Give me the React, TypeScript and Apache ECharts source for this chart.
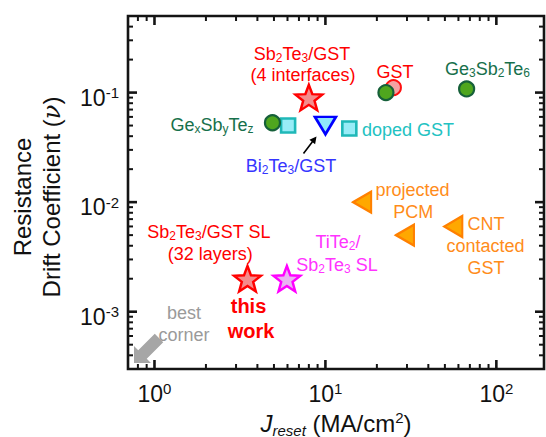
import React, { useEffect, useRef } from 'react';
import * as echarts from 'echarts';

const FONT = '"Liberation Sans", Arial, Helvetica, sans-serif';
const SERIF = '"DejaVu Serif", "Liberation Serif", serif';

// Axis ranges (log–log)
const X_MIN = 0.7;
const X_MAX = 190;
const Y_MIN = 3e-4;
const Y_MAX = 0.5;

// Tick positions
const xMajorTicks = [1, 10, 100];
const xMinorTicks = [0.8, 0.9, 2, 3, 4, 5, 6, 7, 8, 9, 20, 30, 40, 50, 60, 70, 80, 90];
const yMajorTicks = [0.001, 0.01, 0.1];
const yMinorTicks = [
  0.0004, 0.0005, 0.0006, 0.0007, 0.0008, 0.0009,
  0.002, 0.003, 0.004, 0.005, 0.006, 0.007, 0.008, 0.009,
  0.02, 0.03, 0.04, 0.05, 0.06, 0.07, 0.08, 0.09,
  0.2, 0.3, 0.4,
];

// [J_reset (MA/cm²), drift coefficient ν]
const gstPoints = [[25, 0.111]];
const gexsbytezPoints = [[22.6, 0.1], [67, 0.108], [4.9, 0.053]];
const dopedGstPoints = [[6.05, 0.05], [13.8, 0.047]];
const bi2te3Points = [[10, 0.05]];
const orangePoints = [[16.4, 0.01], [29.2, 0.005], [56, 0.006]];
const sb2te3Points = [[8, 0.09], [3.5, 0.002]];
const tite2Points = [[5.95, 0.002]];

// five-pointed star outline for the symbol
function starSymbol(inner: number): string {
  const pts: string[] = [];
  for (let i = 0; i < 10; i++) {
    const a = (-90 + i * 36) * Math.PI / 180;
    const r = i % 2 === 0 ? 50 : 50 * inner;
    pts.push(`${(r * Math.cos(a)).toFixed(2)} ${(r * Math.sin(a)).toFixed(2)}`);
  }
  return 'path://M' + pts.join(' L') + ' Z';
}
const STAR = starSymbol(0.42);

function markSeries(name: string, data: number[][], symbol: string, size: any, fill: string, stroke: string, lw: number, rotate = 0, z = 5) {
  return {
    type: 'scatter',
    name,
    data,
    symbol,
    symbolSize: size,
    symbolRotate: rotate,
    itemStyle: { color: fill, borderColor: stroke, borderWidth: lw, opacity: 1 },
    silent: true,
    z,
  };
}

function annoRich(color: string) {
  return {
    n: { fill: color, color, fontSize: 18, lineHeight: 20, fontFamily: FONT },
    s: { fill: color, color, fontSize: 12, lineHeight: 8, verticalAlign: 'bottom', fontFamily: FONT },
    b: { fill: color, color, fontSize: 20, lineHeight: 22, fontWeight: 'bold', fontFamily: FONT },
  };
}

function anno(x: number, y: number, text: string, color: string) {
  return {
    type: 'text',
    x,
    y,
    z: 50,
    silent: true,
    style: {
      text,
      rich: annoRich(color),
      fill: color,
      font: `18px ${FONT}`,
      align: 'center',
      textAlign: 'center',
      verticalAlign: 'middle',
      textVerticalAlign: 'middle',
    },
  };
}

function arrowPoints(tail: number[], tip: number[], shaftHalf: number, headLen: number, headHalf: number) {
  const dx = tip[0] - tail[0];
  const dy = tip[1] - tail[1];
  const L = Math.hypot(dx, dy);
  const ux = dx / L, uy = dy / L;
  const px = -uy, py = ux;
  const bx = tip[0] - ux * headLen, by = tip[1] - uy * headLen;
  return [
    [tail[0] + px * shaftHalf, tail[1] + py * shaftHalf],
    [bx + px * shaftHalf, by + py * shaftHalf],
    [bx + px * headHalf, by + py * headHalf],
    [tip[0], tip[1]],
    [bx - px * headHalf, by - py * headHalf],
    [bx - px * shaftHalf, by - py * shaftHalf],
    [tail[0] - px * shaftHalf, tail[1] - py * shaftHalf],
  ];
}

const tickRich = {
  b: { fontFamily: FONT, fontSize: 23, lineHeight: 22, color: '#111', verticalAlign: 'bottom' },
  s: { fontFamily: FONT, fontSize: 15, lineHeight: 33, color: '#111', verticalAlign: 'middle' },
};

function powerLabel(v: number): string {
  const e = Math.log10(v);
  const r = Math.round(e);
  if (Math.abs(e - r) > 1e-6) return '';
  return `{b|10}{s|${r}}`;
}

const tickData = [
  ...xMajorTicks.map((v) => [v, Y_MIN, 0, 1]),
  ...xMinorTicks.map((v) => [v, Y_MIN, 0, 0]),
  ...yMajorTicks.map((v) => [X_MIN, v, 1, 1]),
  ...yMinorTicks.map((v) => [X_MIN, v, 1, 0]),
];

const option: any = {
  animation: false,
  backgroundColor: '#ffffff',
  textStyle: { fontFamily: FONT },
  grid: {
    left: 128,
    right: 2,
    top: 16,
    bottom: 68,
    containLabel: false,
    outerBoundsMode: 'none',
    show: true,
    borderColor: '#141414',
    borderWidth: 2.6,
    backgroundColor: 'transparent',
  },
  xAxis: {
    type: 'log',
    logBase: 10,
    min: X_MIN,
    max: X_MAX,
    axisLine: { show: false },
    axisTick: { show: false },
    minorTick: { show: false },
    splitLine: { show: false },
    axisLabel: { formatter: powerLabel, margin: 3, rich: tickRich },
    name: '{i|J}{sub|reset}{n| (MA/cm}{sup|2}{n|)}',
    nameLocation: 'middle',
    nameGap: 39,
    nameTextStyle: {
      rich: {
        i: { fontFamily: FONT, fontSize: 24, fontStyle: 'italic', lineHeight: 28, color: '#111' },
        n: { fontFamily: FONT, fontSize: 24, lineHeight: 28, color: '#111' },
        sub: { fontFamily: FONT, fontSize: 15, fontStyle: 'italic', lineHeight: 15, verticalAlign: 'bottom', color: '#111' },
        sup: { fontFamily: FONT, fontSize: 15, lineHeight: 15, verticalAlign: 'top', color: '#111' },
      },
    },
  },
  yAxis: {
    type: 'log',
    logBase: 10,
    min: Y_MIN,
    max: Y_MAX,
    axisLine: { show: false },
    axisTick: { show: false },
    minorTick: { show: false },
    splitLine: { show: false },
    axisLabel: { formatter: powerLabel, margin: 9, rich: tickRich },
  },
  series: [
    {
      type: 'custom',
      name: 'ticks',
      silent: true,
      clip: false,
      z: 3,
      data: tickData,
      encode: { x: 0, y: 1 },
      renderItem: (_params: any, api: any) => {
        const onY = api.value(2) === 1;
        const major = api.value(3) === 1;
        const len = major ? 9 : 5;
        const style = { stroke: '#141414', lineWidth: major ? 2.6 : 2 };
        if (!onY) {
          const v = api.value(0);
          const pb = api.coord([v, Y_MIN]);
          const pt = api.coord([v, Y_MAX]);
          return {
            type: 'group',
            children: [
              { type: 'line', shape: { x1: pb[0], y1: pb[1], x2: pb[0], y2: pb[1] - len }, style },
              { type: 'line', shape: { x1: pt[0], y1: pt[1], x2: pt[0], y2: pt[1] + len }, style },
            ],
          };
        }
        const v = api.value(1);
        const pl = api.coord([X_MIN, v]);
        const pr = api.coord([X_MAX, v]);
        return {
          type: 'group',
          children: [
            { type: 'line', shape: { x1: pl[0], y1: pl[1], x2: pl[0] + len, y2: pl[1] }, style },
            { type: 'line', shape: { x1: pr[0], y1: pr[1], x2: pr[0] - len, y2: pr[1] }, style },
          ],
        };
      },
    },
    markSeries('GST', gstPoints, 'circle', 15, '#f5a2a2', '#ff1010', 2),
    markSeries('GexSbyTez', gexsbytezPoints, 'circle', 15, '#4fa61e', '#16603a', 2.2, 0, 6),
    markSeries('doped GST', dopedGstPoints, 'rect', 14, '#98ecf7', '#1fb8b8', 2.6),
    markSeries('Bi2Te3/GST', bi2te3Points, 'triangle', [21, 17.5], '#8fe6fb', '#0000ff', 2.6, 180),
    markSeries('projected PCM / CNT contacted GST', orangePoints, 'triangle', [21, 18], '#ffa800', '#ff8000', 2.2, 90),
    markSeries('Sb2Te3/GST', sb2te3Points, STAR, [27, 25.5], '#f58b8b', '#ff0000', 2.4),
    markSeries('TiTe2/Sb2Te3 SL', tite2Points, STAR, [27, 25.5], '#e9b4f2', '#ff00ff', 2.4),
  ],
  graphic: [
    // y-axis title
    {
      type: 'text',
      x: 22.5,
      y: 197,
      rotation: Math.PI / 2,
      silent: true,
      style: {
        text: 'Resistance',
        fill: '#111',
        font: `24px ${FONT}`,
        align: 'center',
        textAlign: 'center',
        verticalAlign: 'middle',
        textVerticalAlign: 'middle',
      },
    },
    {
      type: 'text',
      x: 51.5,
      y: 197,
      rotation: Math.PI / 2,
      silent: true,
      style: {
        text: '{n|Drift Coefficient (}{g|ν}{n|)}',
        rich: {
          n: { fill: '#111', fontSize: 24, lineHeight: 28, fontFamily: FONT },
          g: { fill: '#111', fontSize: 24, lineHeight: 28, fontFamily: SERIF, fontStyle: 'italic' },
        },
        fill: '#111',
        font: `24px ${FONT}`,
        align: 'center',
        textAlign: 'center',
        verticalAlign: 'middle',
        textVerticalAlign: 'middle',
      },
    },
    // arrows
    {
      type: 'polygon',
      z: 40,
      silent: true,
      shape: { points: arrowPoints([159, 338], [134, 363], 6, 12, 12) },
      style: { fill: '#a6a6a6' },
    },
    {
      type: 'polygon',
      z: 40,
      silent: true,
      shape: { points: arrowPoints([303.5, 153.5], [316.5, 136.5], 0.8, 7, 3.6) },
      style: { fill: '#000000' },
    },
    // annotations
    anno(302, 54, '{n|Sb}{s|2}{n|Te}{s|3}{n|/GST}', '#ff0000'),
    anno(303, 75, '{n|(4 interfaces)}', '#ff0000'),
    anno(395, 72, '{n|GST}', '#ff0000'),
    anno(487.5, 68.5, '{n|Ge}{s|3}{n|Sb}{s|2}{n|Te}{s|6}', '#17704b'),
    anno(212, 125, '{n|Ge}{s|x}{n|Sb}{s|y}{n|Te}{s|z}', '#17704b'),
    anno(408, 130, '{n|doped GST}', '#22c2c2'),
    anno(291, 166, '{n|Bi}{s|2}{n|Te}{s|3}{n|/GST}', '#3535ff'),
    anno(412.5, 190, '{n|projected}', '#ff8c1a'),
    anno(413.3, 212, '{n|PCM}', '#ff8c1a'),
    anno(486, 224, '{n|CNT}', '#ff8c1a'),
    anno(485.5, 246, '{n|contacted}', '#ff8c1a'),
    anno(486, 267.5, '{n|GST}', '#ff8c1a'),
    anno(209, 232, '{n|Sb}{s|2}{n|Te}{s|3}{n|/GST SL}', '#ff0000'),
    anno(210.3, 254, '{n|(32 layers)}', '#ff0000'),
    anno(338, 242, '{n|TiTe}{s|2}{n|/}', '#ff33ff'),
    anno(337, 265, '{n|Sb}{s|2}{n|Te}{s|3}{n| SL}', '#ff33ff'),
    anno(248.5, 306, '{b|this}', '#ff0000'),
    anno(251, 331, '{b|work}', '#ff0000'),
    anno(184, 313.3, '{n|best}', '#9a9a9a'),
    anno(184, 335, '{n|corner}', '#9a9a9a'),
  ],
};

export default function App() {
  const ref = useRef<HTMLDivElement>(null);
  useEffect(() => {
    if (!ref.current) return;
    const chart = echarts.init(ref.current, undefined, { renderer: 'svg' });
    chart.setOption(option);
    return () => chart.dispose();
  }, []);
  return (
    <div
      ref={ref}
      style={{ position: 'fixed', left: 0, top: 0, width: 546, height: 437, background: '#fff' }}
    />
  );
}
